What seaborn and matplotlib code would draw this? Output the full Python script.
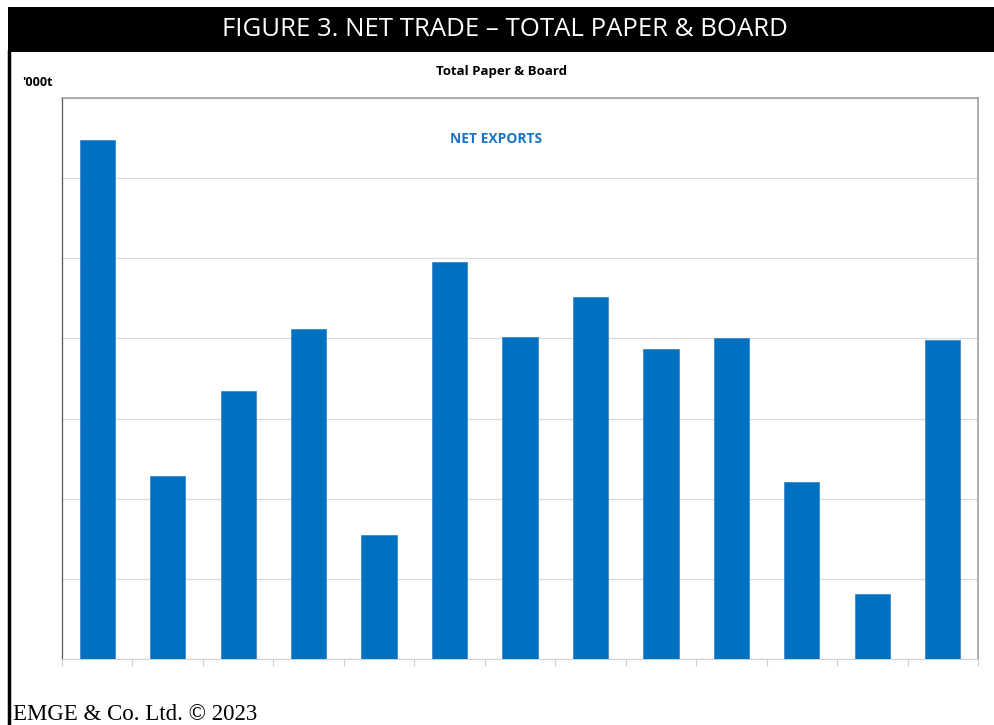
import matplotlib
matplotlib.use("Agg")
import matplotlib.pyplot as plt
import seaborn as sns
import pandas as pd
from matplotlib.patches import Rectangle
from matplotlib.lines import Line2D

years = [str(y) for y in range(2010, 2023)]
net_exports = [648, 228, 334, 412, 155, 495, 402, 452, 387, 401, 221, 81, 398]

df = pd.DataFrame({"year": years, "net": net_exports})

sns.set_theme(style="white")
plt.rcParams['font.family'] = ['Open Sans', 'DejaVu Sans']

fig = plt.figure(figsize=(9.95, 7.25), dpi=100)
W, H = 995, 725
ax = fig.add_axes([62 / W, 1 - 659 / H, (978 - 62) / W, (659 - 98) / H])

sns.barplot(data=df, x="year", y="net", color="#0070C0", saturation=1,
            width=0.5, ax=ax, edgecolor="#3a8ad0", linewidth=0.6, zorder=3)

ax.set_xlim(-0.5, len(years) - 0.5)
ax.set_ylim(0, 700)
ax.set_yticks(range(0, 701, 100))
ax.yaxis.grid(True, color="#d9d9d9", linewidth=0.8, zorder=0)
ax.set_yticklabels([])
ax.tick_params(axis="y", length=0)
ax.set_xticks([i - 0.5 for i in range(len(years) + 1)])
ax.set_xticklabels([])
ax.tick_params(axis="x", bottom=True, length=5, color="#d0d0d0", width=0.8,
               direction="out")
ax.set_xlabel("")
ax.set_ylabel("")
for s in ["top", "right"]:
    ax.spines[s].set_color("#a0a0a0")
    ax.spines[s].set_linewidth(1.2)
ax.spines["left"].set_color("#595959")
ax.spines["left"].set_linewidth(0.9)
ax.spines["bottom"].set_color("#d0d0d0")
ax.spines["bottom"].set_linewidth(0.8)

ax.text(0.474, 0.927, "NET EXPORTS", transform=ax.transAxes, ha="center",
        va="center", color="#1a75c2", fontsize=10, fontweight="bold")

# Header bar
fig.patches.append(Rectangle((8 / W, 1 - 52 / H), (W - 8) / W, 45 / H,
                             transform=fig.transFigure, facecolor="black",
                             edgecolor="none", zorder=0))
fig.text(505 / W, 1 - 30 / H, "FIGURE 3. NET TRADE – TOTAL PAPER & BOARD",
         color="white", ha="center", va="center", fontsize=18.5)
# left border
fig.lines.append(Line2D([9 / W, 9 / W], [0, 1 - 50 / H], transform=fig.transFigure,
                        color="black", linewidth=2.5))

fig.text(502 / W, 1 - 72 / H, "Total Paper & Board", ha="center", va="center",
         fontsize=9.5, fontweight="bold", color="black")
fig.text(22 / W, 1 - 82 / H, "'000t", ha="left", va="center",
         fontsize=9, fontweight="bold", color="black")
fig.text(13 / W, 1 - 715 / H, "EMGE & Co. Ltd. © 2023", ha="left", va="center",
         fontsize=16.5, family=["Liberation Serif", "DejaVu Serif"], color="black")

fig.savefig("out.png", dpi=100)
